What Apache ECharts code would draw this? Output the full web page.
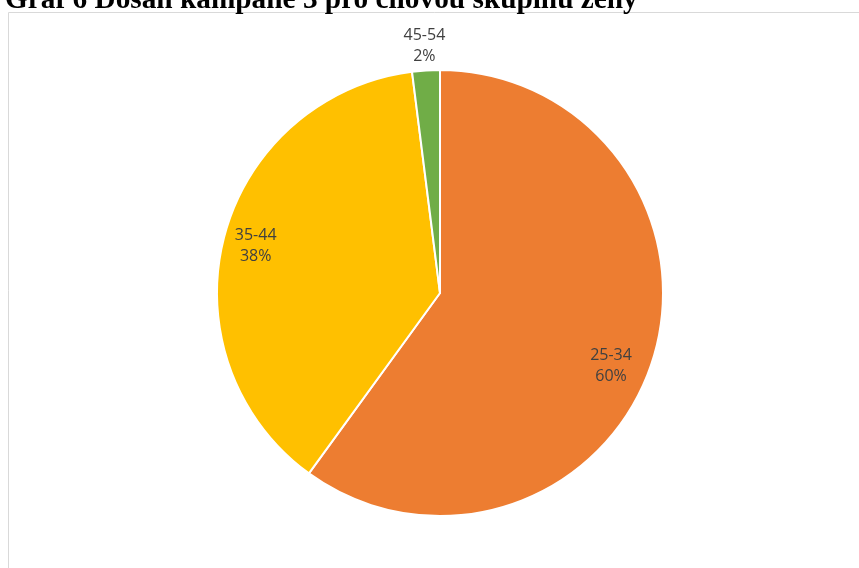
<!DOCTYPE html>
<html><head><meta charset="utf-8">
<script src="https://cdn.jsdelivr.net/npm/echarts@6/dist/echarts.min.js"></script>
<style>html,body{margin:0;padding:0;background:#fff}#c{width:859px;height:568px}</style>
</head><body><div id="c"></div>
<script>
const titleText = 'Graf 6 Dosah kampaně 3 pro cílovou skupinu ženy';
const categories = ['25-34', '35-44', '45-54'];
const values = [60, 38, 2];
const colors = ['#ED7D31', '#FFC000', '#70AD47'];

const chart = echarts.init(document.getElementById('c'), null, {renderer: 'canvas'});
const R = 223;
const center = [440, 293];
const fmt = p => p.name + '\n' + Math.round(p.percent) + '%';
const lblStyle = {color: '#404040', fontSize: 16, fontFamily: 'Open Sans', lineHeight: 21};
const labelOffsets = [[-10, 14], [0, 0], [0, 1]];
function overlay(r0, r1, showIdx) {
  return {
    type: 'pie', silent: true, center, radius: [r0, r1], startAngle: 90, clockwise: true,
    animation: false, labelLine: {show: false},
    itemStyle: {color: 'rgba(0,0,0,0)', borderWidth: 0},
    emphasis: {disabled: true},
    data: categories.map((c, i) => ({name: c, value: values[i],
      label: {show: showIdx.includes(i), position: 'inside', formatter: fmt,
              offset: labelOffsets[i], ...lblStyle}}))
  };
}
chart.setOption({
  animation: false,
  title: {text: titleText, left: 0, top: -19,
    textStyle: {fontFamily: 'Liberation Serif', fontWeight: 'bold', fontSize: 29.3, color: '#000'}},
  graphic: [{type: 'rect', shape: {x: 8.5, y: 12.5, width: 900, height: 600},
    style: {fill: 'none', stroke: '#d9d9d9', lineWidth: 1}, silent: true}],
  series: [
    {type: 'pie', center, radius: [0, R], startAngle: 90, clockwise: true,
     label: {show: false}, labelLine: {show: false},
     itemStyle: {borderColor: '#fff', borderWidth: 2},
     data: categories.map((c, i) => ({name: c, value: values[i], itemStyle: {color: colors[i]}}))},
    overlay(R * 0.68, R, [0, 1]),
    overlay(R, R * 1.2, [2])
  ]
});
</script></body></html>
